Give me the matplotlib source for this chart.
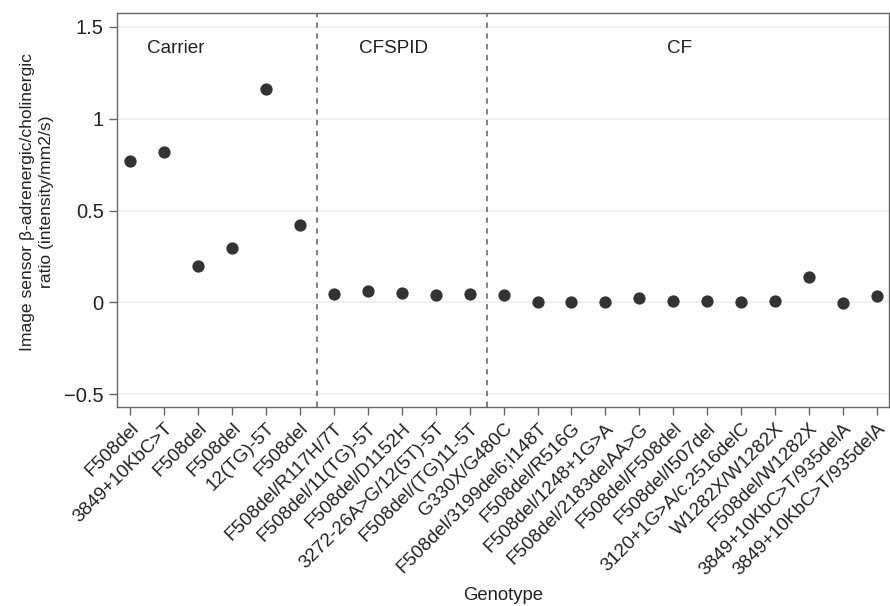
import matplotlib.pyplot as plt

plt.rcParams["font.family"] = ["Liberation Sans", "DejaVu Sans"]

genotypes = [
    "F508del", "3849+10KbC>T", "F508del", "F508del", "12(TG)-5T", "F508del",
    "F508del/R117H/7T", "F508del/11(TG)-5T", "F508del/D1152H",
    "3272-26A>G/12(5T)-5T", "F508del/(TG)11-5T",
    "G330X/G480C", "F508del/3199del6;I148T", "F508del/R516G",
    "F508del/1248+1G>A", "F508del/2183delAA>G", "F508del/F508del",
    "F508del/I507del", "3120+1G>A/c.2516delC", "W1282X/W1282X",
    "F508del/W1282X", "3849+10KbC>T/935delA", "3849+10KbC>T/935delA",
]
ratios = [
    0.77, 0.82, 0.20, 0.295, 1.16, 0.42,
    0.047, 0.065, 0.049, 0.042, 0.045,
    0.040, 0.004, 0.000, 0.002, 0.026, 0.007,
    0.007, 0.005, 0.008, 0.138, -0.004, 0.036,
]
groups = ["Carrier", "CFSPID", "CF"]
group_sizes = [6, 5, 12]

fig = plt.figure(figsize=(8.9, 6.06), dpi=100)
ax = fig.add_axes([0.1315, 0.3289, 0.8675, 0.6491])

x = list(range(len(genotypes)))
ax.scatter(x, ratios, s=78, color="#333333", zorder=3, linewidths=0)

# group separators
start = 0
for n in group_sizes:
    start += n
    if start < len(genotypes):
        ax.axvline(start - 0.5, color="#777777", linestyle=(0, (3, 3)), linewidth=1.3, zorder=2)

fs = 13.6
ax.text(1.35, 1.38, "Carrier", ha="center", va="center", fontsize=fs, color="#222222")
ax.text(7.75, 1.38, "CFSPID", ha="center", va="center", fontsize=fs, color="#222222")
ax.text(16.2, 1.38, "CF", ha="center", va="center", fontsize=fs, color="#222222")

ax.set_xlim(-0.39, 22.36)
ax.set_ylim(-0.567, 1.573)
ax.set_yticks([-0.5, 0, 0.5, 1, 1.5])
ax.set_yticklabels(["\u22120.5", "0", "0.5", "1", "1.5"], fontsize=14.5)
ax.set_xticks(x)
ax.set_xticklabels(genotypes, rotation=45, ha="right", rotation_mode="anchor", fontsize=fs)

ax.grid(axis="y", color="#eeeeee", linewidth=1.2, zorder=0)
ax.set_axisbelow(True)

for s in ax.spines.values():
    s.set_color("#666666")
    s.set_linewidth(1.0)
ax.tick_params(direction="out", length=6, width=1, color="#666666", labelcolor="#222222")

ax.set_ylabel("Image sensor \u03b2-adrenergic/cholinergic\nratio (intensity/mm2/s)",
              fontsize=12.6, color="#222222", labelpad=7.5, linespacing=1.3)
ax.yaxis.label.set_y(0.52)
ax.set_xlabel("Genotype", fontsize=13.3, color="#222222", labelpad=6)

fig.savefig("out.png", dpi=100)
